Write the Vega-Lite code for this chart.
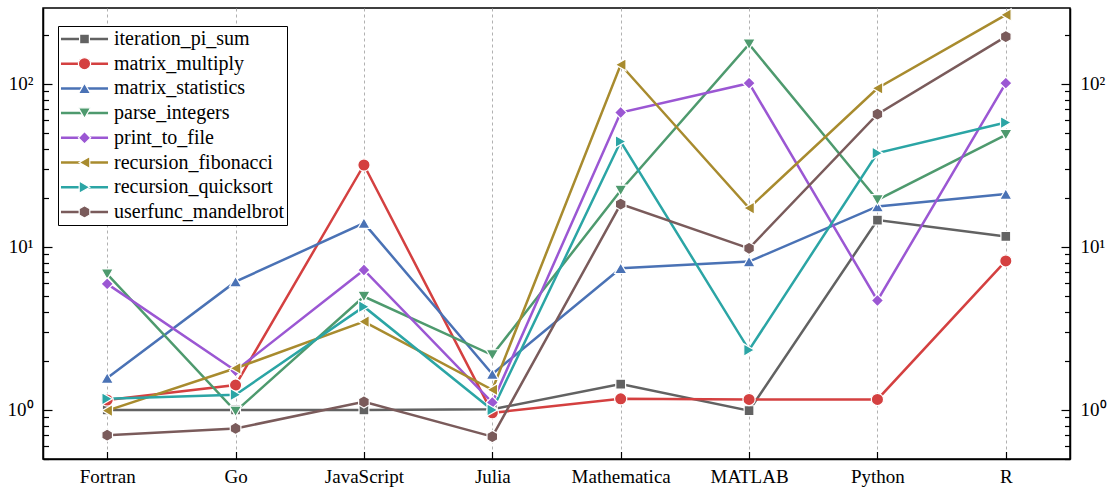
{
  "$schema": "https://vega.github.io/schema/vega-lite/v6.json",
  "width": 1027,
  "height": 451,
  "autosize": "none",
  "padding": {"left": 43, "top": 8, "right": 40, "bottom": 31},
  "config": {
    "font": "Liberation Serif",
    "view": {"stroke": "black", "strokeWidth": 1.5},
    "axis": {"labelFont": "Liberation Serif", "labelColor": "black", "labelFontSize": 19, "domainColor": "black", "domainWidth": 1.5, "tickColor": "black", "tickWidth": 1.2, "title": null}
  },
  "data": {
    "values": [
      {"lang": "Fortran", "series": "iteration_pi_sum", "v": 1.0},
      {"lang": "Fortran", "series": "matrix_multiply", "v": 1.15},
      {"lang": "Fortran", "series": "matrix_statistics", "v": 1.57},
      {"lang": "Fortran", "series": "parse_integers", "v": 6.8},
      {"lang": "Fortran", "series": "print_to_file", "v": 5.93},
      {"lang": "Fortran", "series": "recursion_fibonacci", "v": 0.99},
      {"lang": "Fortran", "series": "recursion_quicksort", "v": 1.17},
      {"lang": "Fortran", "series": "userfunc_mandelbrot", "v": 0.70},
      {"lang": "Go", "series": "iteration_pi_sum", "v": 1.0},
      {"lang": "Go", "series": "matrix_multiply", "v": 1.42},
      {"lang": "Go", "series": "matrix_statistics", "v": 6.12},
      {"lang": "Go", "series": "parse_integers", "v": 0.98},
      {"lang": "Go", "series": "print_to_file", "v": 1.74},
      {"lang": "Go", "series": "recursion_fibonacci", "v": 1.80},
      {"lang": "Go", "series": "recursion_quicksort", "v": 1.24},
      {"lang": "Go", "series": "userfunc_mandelbrot", "v": 0.77},
      {"lang": "JavaScript", "series": "iteration_pi_sum", "v": 1.0},
      {"lang": "JavaScript", "series": "matrix_multiply", "v": 31.8},
      {"lang": "JavaScript", "series": "matrix_statistics", "v": 14.0},
      {"lang": "JavaScript", "series": "parse_integers", "v": 4.96},
      {"lang": "JavaScript", "series": "print_to_file", "v": 7.22},
      {"lang": "JavaScript", "series": "recursion_fibonacci", "v": 3.48},
      {"lang": "JavaScript", "series": "recursion_quicksort", "v": 4.30},
      {"lang": "JavaScript", "series": "userfunc_mandelbrot", "v": 1.12},
      {"lang": "Julia", "series": "iteration_pi_sum", "v": 1.01},
      {"lang": "Julia", "series": "matrix_multiply", "v": 0.96},
      {"lang": "Julia", "series": "matrix_statistics", "v": 1.66},
      {"lang": "Julia", "series": "parse_integers", "v": 2.17},
      {"lang": "Julia", "series": "print_to_file", "v": 1.11},
      {"lang": "Julia", "series": "recursion_fibonacci", "v": 1.33},
      {"lang": "Julia", "series": "recursion_quicksort", "v": 1.0},
      {"lang": "Julia", "series": "userfunc_mandelbrot", "v": 0.686},
      {"lang": "Mathematica", "series": "iteration_pi_sum", "v": 1.44},
      {"lang": "Mathematica", "series": "matrix_multiply", "v": 1.17},
      {"lang": "Mathematica", "series": "matrix_statistics", "v": 7.4},
      {"lang": "Mathematica", "series": "parse_integers", "v": 22.2},
      {"lang": "Mathematica", "series": "print_to_file", "v": 66.7},
      {"lang": "Mathematica", "series": "recursion_fibonacci", "v": 131},
      {"lang": "Mathematica", "series": "recursion_quicksort", "v": 44.3},
      {"lang": "Mathematica", "series": "userfunc_mandelbrot", "v": 18.3},
      {"lang": "MATLAB", "series": "iteration_pi_sum", "v": 0.99},
      {"lang": "MATLAB", "series": "matrix_multiply", "v": 1.16},
      {"lang": "MATLAB", "series": "matrix_statistics", "v": 8.13},
      {"lang": "MATLAB", "series": "parse_integers", "v": 175},
      {"lang": "MATLAB", "series": "print_to_file", "v": 101},
      {"lang": "MATLAB", "series": "recursion_fibonacci", "v": 17.3},
      {"lang": "MATLAB", "series": "recursion_quicksort", "v": 2.33},
      {"lang": "MATLAB", "series": "userfunc_mandelbrot", "v": 9.8},
      {"lang": "Python", "series": "iteration_pi_sum", "v": 14.6},
      {"lang": "Python", "series": "matrix_multiply", "v": 1.16},
      {"lang": "Python", "series": "matrix_statistics", "v": 17.7},
      {"lang": "Python", "series": "parse_integers", "v": 19.4},
      {"lang": "Python", "series": "print_to_file", "v": 4.69},
      {"lang": "Python", "series": "recursion_fibonacci", "v": 94},
      {"lang": "Python", "series": "recursion_quicksort", "v": 37.6},
      {"lang": "Python", "series": "userfunc_mandelbrot", "v": 65.2},
      {"lang": "R", "series": "iteration_pi_sum", "v": 11.6},
      {"lang": "R", "series": "matrix_multiply", "v": 8.2},
      {"lang": "R", "series": "matrix_statistics", "v": 21.1},
      {"lang": "R", "series": "parse_integers", "v": 48.7},
      {"lang": "R", "series": "print_to_file", "v": 101},
      {"lang": "R", "series": "recursion_fibonacci", "v": 265},
      {"lang": "R", "series": "recursion_quicksort", "v": 57.9},
      {"lang": "R", "series": "userfunc_mandelbrot", "v": 195}
    ]
  },
  "encoding": {
    "x": {
      "field": "lang", "type": "nominal",
      "sort": ["Fortran", "Go", "JavaScript", "Julia", "Mathematica", "MATLAB", "Python", "R"],
      "scale": {"type": "point", "padding": 0.5},
      "axis": {"labelAngle": 0, "grid": true, "gridDash": [3, 3], "gridColor": "#a8a8a8", "gridWidth": 0.9, "tickSize": -7.5, "labelPadding": 16}
    }
  },
  "layer": [
    {
      "mark": {"type": "line", "strokeWidth": 2.5},
      "encoding": {
        "y": {
          "field": "v", "type": "quantitative",
          "scale": {"type": "log", "domain": [0.5, 292], "nice": false},
          "axis": {
            "values": [0.5, 0.6, 0.7, 0.8, 0.9, 1, 2, 3, 4, 5, 6, 7, 8, 9, 10, 20, 30, 40, 50, 60, 70, 80, 90, 100, 200],
            "labelExpr": "datum.value == 1 ? '10⁰' : datum.value == 10 ? '10¹' : datum.value == 100 ? '10²' : ''",
            "tickSize": {"condition": {"test": "datum.value == 1 || datum.value == 10 || datum.value == 100", "value": -9}, "value": -5.5},
            "labelPadding": 19, "grid": false, "orient": "left"
          }
        },
        "stroke": {
          "field": "series", "type": "nominal",
          "scale": {
            "domain": ["iteration_pi_sum", "matrix_multiply", "matrix_statistics", "parse_integers", "print_to_file", "recursion_fibonacci", "recursion_quicksort", "userfunc_mandelbrot"],
            "range": ["#626262", "#d44040", "#4a72b5", "#4e9a6e", "#9b57d3", "#a88b2e", "#2ba5a5", "#7a5b5b"]
          },
          "legend": {
            "title": null, "orient": "none", "legendX": 15, "legendY": 18, "padding": 3,
            "symbolType": "M-2.94,0H2.94", "symbolSize": 256, "symbolStrokeWidth": 2.5, "symbolOffset": 13.5,
            "labelOffset": 19.5, "labelFont": "Liberation Serif", "labelFontSize": 20, "labelColor": "black", "labelLimit": 400,
            "rowPadding": 4.7, "strokeColor": "black", "fillColor": "white", "cornerRadius": 0, "zindex": 1
          }
        }
      }
    },
    {
      "mark": {"type": "point", "filled": true, "size": 150, "stroke": "white", "strokeWidth": 1.2, "opacity": 1},
      "encoding": {
        "y": {
          "field": "v", "type": "quantitative",
          "scale": {"type": "log", "domain": [0.5, 292], "nice": false},
          "axis": {
            "values": [0.5, 0.6, 0.7, 0.8, 0.9, 1, 2, 3, 4, 5, 6, 7, 8, 9, 10, 20, 30, 40, 50, 60, 70, 80, 90, 100, 200],
            "labelExpr": "datum.value == 1 ? '10⁰' : datum.value == 10 ? '10¹' : datum.value == 100 ? '10²' : ''",
            "tickSize": {"condition": {"test": "datum.value == 1 || datum.value == 10 || datum.value == 100", "value": -9}, "value": -5.5},
            "labelPadding": 19, "grid": false, "orient": "right"
          }
        },
        "fill": {
          "field": "series", "type": "nominal",
          "scale": {"range": ["#626262", "#d44040", "#4a72b5", "#4e9a6e", "#9b57d3", "#a88b2e", "#2ba5a5", "#7a5b5b"]},
          "legend": {
            "title": null, "orient": "none", "legendX": 15, "legendY": 18, "padding": 3,
            "symbolSize": 150, "symbolStrokeColor": "white", "symbolStrokeWidth": 1.2, "symbolOffset": 13.5,
            "labelOffset": 19.5, "labelFont": "Liberation Serif", "labelFontSize": 20, "labelOpacity": 0, "labelLimit": 400,
            "rowPadding": 4.7, "strokeColor": null, "fillColor": null, "zindex": 2
          }
        },
        "shape": {
          "field": "series", "type": "nominal",
          "scale": {"range": ["M-0.8,-0.8H0.8V0.8H-0.8Z", "circle", "triangle-up", "triangle-down", "diamond", "triangle-left", "triangle-right", "M0,-1L-0.866,-0.5L-0.866,0.5L0,1L0.866,0.5L0.866,-0.5Z"]}
        }
      }
    }
  ],
  "resolve": {"axis": {"y": "independent"}}
}
